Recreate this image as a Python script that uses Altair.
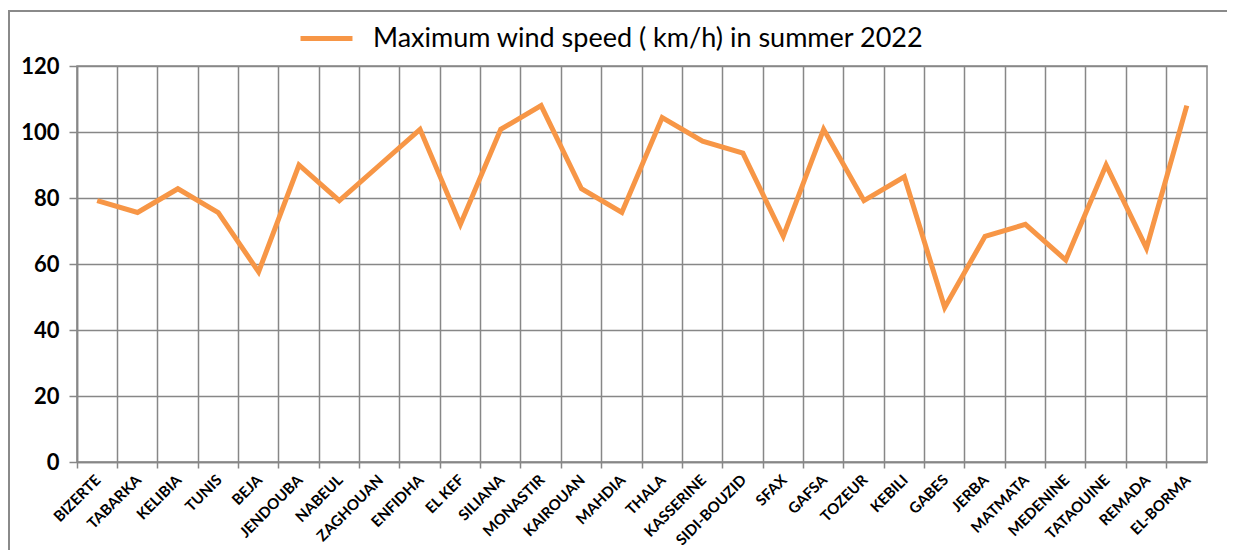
import altair as alt
import pandas as pd

stations = ["BIZERTE", "TABARKA", "KELIBIA", "TUNIS", "BEJA", "JENDOUBA", "NABEUL",
            "ZAGHOUAN", "ENFIDHA", "EL KEF", "SILIANA", "MONASTIR", "KAIROUAN", "MAHDIA",
            "THALA", "KASSERINE", "SIDI-BOUZID", "SFAX", "GAFSA", "TOZEUR", "KEBILI",
            "GABES", "JERBA", "MATMATA", "MEDENINE", "TATAOUINE", "REMADA", "EL-BORMA"]
max_wind = [79.2, 75.6, 82.8, 75.6, 57.6, 90.0, 79.2,
            90.0, 100.8, 72.0, 100.8, 108.0, 82.8, 75.6,
            104.4, 97.2, 93.6, 68.4, 100.8, 79.2, 86.4,
            46.8, 68.4, 72.0, 61.2, 90.0, 64.8, 108.0]
series_name = "Maximum wind speed ( km/h) in summer 2022"
y_ticks = [0, 20, 40, 60, 80, 100, 120]

df = pd.DataFrame({"station": stations, "speed": max_wind, "series": series_name})

GRID = "#878787"
ORANGE = "#F79646"

line = alt.Chart(df).mark_line(strokeWidth=5, strokeJoin="miter").encode(
    x=alt.X(
        "station:N",
        sort=stations,
        title=None,
        bandPosition=0.5,
        scale=alt.Scale(type="band", paddingInner=0, paddingOuter=0),
        axis=alt.Axis(
            bandPosition=0,
            labelOffset=1,
            labelAngle=-45,
            labelAlign="right",
            labelBaseline="middle",
            labelFont="Lato",
            labelFontWeight="bold",
            labelFontSize=15,
            labelColor="black",
            labelPadding=9,
            labelOverlap=False,
            labelLimit=0,
            tickSize=6,
            tickColor=GRID,
            tickWidth=1.5,
            domainColor=GRID,
            domainWidth=1.5,
            grid=True,
            gridColor=GRID,
            gridWidth=1.5,
        ),
    ),
    y=alt.Y(
        "speed:Q",
        title=None,
        scale=alt.Scale(domain=[0, 120], nice=False),
        axis=alt.Axis(
            values=y_ticks,
            labelFont="Lato",
            labelFontWeight="bold",
            labelFontSize=22,
            labelColor="black",
            labelPadding=10,
            tickSize=8,
            tickColor=GRID,
            tickWidth=1.5,
            domainColor=GRID,
            domainWidth=1.5,
            grid=True,
            gridColor=GRID,
            gridWidth=1.5,
        ),
    ),
    color=alt.Color(
        "series:N",
        scale=alt.Scale(range=[ORANGE]),
        legend=alt.Legend(
            title=None,
            orient="none",
            legendX=221,
            legendY=-56,
            symbolType="stroke",
            symbolSize=2700,
            symbolStrokeWidth=5,
            labelFont="Lato",
            labelFontSize=27,
            labelColor="black",
            labelOffset=18,
            labelLimit=0,
        ),
    ),
)

# outer chart frame (decoration)
frame_top = alt.Chart(df).mark_rule(color="#8a8a8a", strokeWidth=1.5).encode(
    x=alt.value(-69), x2=alt.value(1150), y=alt.value(-55)
)
frame_left = alt.Chart(df).mark_rule(color="#8a8a8a", strokeWidth=1.5).encode(
    x=alt.value(-68), y=alt.value(-55), y2=alt.value(520)
)

chart = alt.layer(frame_top, frame_left, line).properties(
    width=1130,
    height=396,
    autosize=alt.AutoSizeParams(type="none"),
    padding={"left": 69, "top": 58, "right": 20, "bottom": 88},
).configure_view(stroke=GRID, strokeWidth=1.5)

chart.save("out.html", embed_options={"renderer": "svg", "actions": False})
